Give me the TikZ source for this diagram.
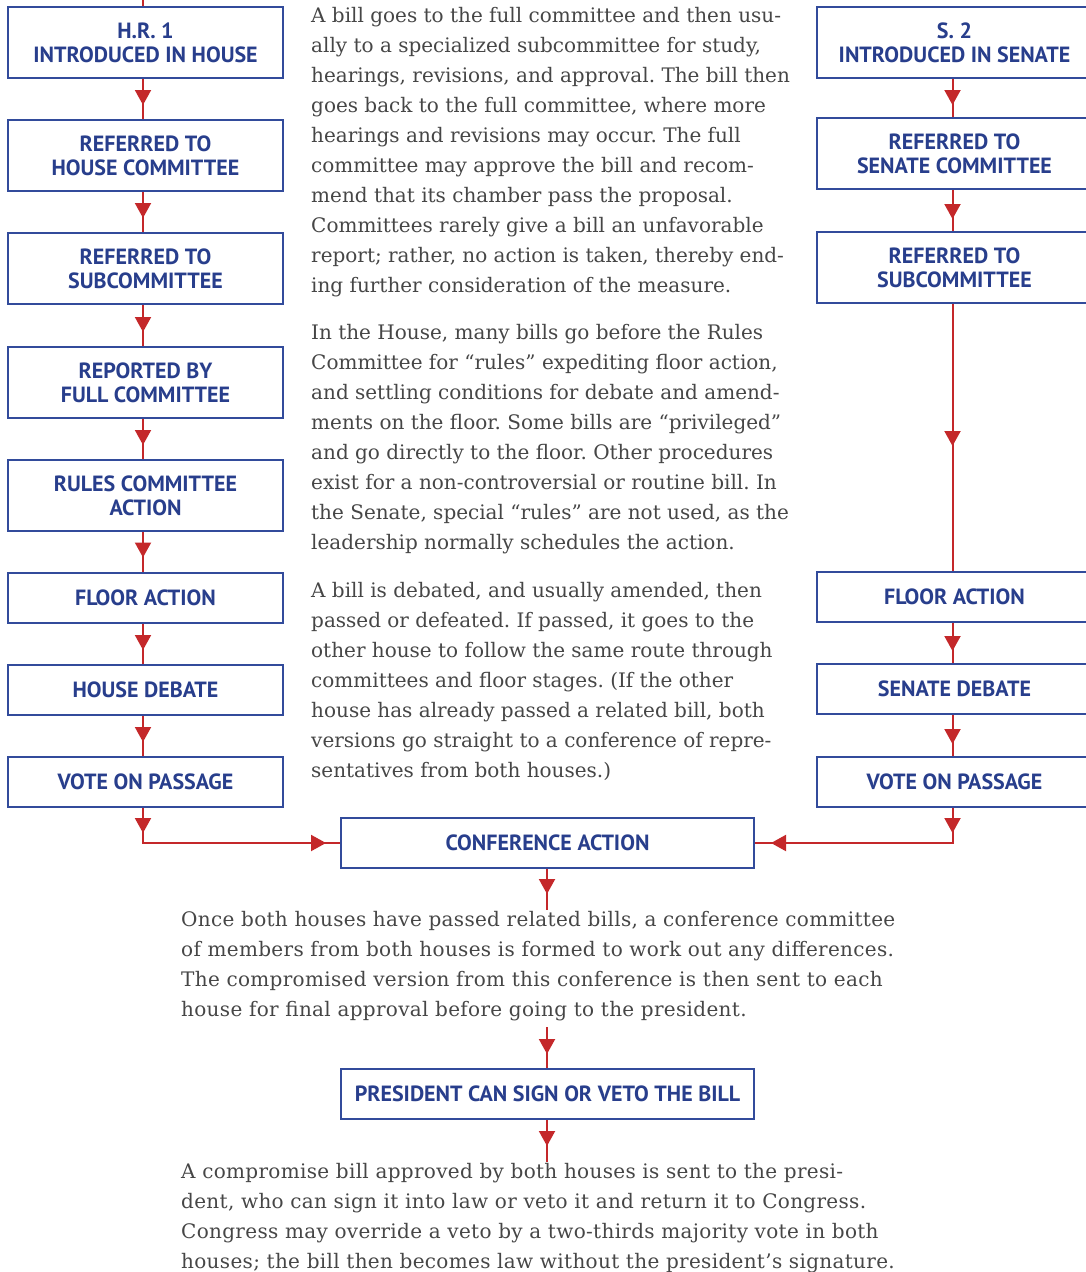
\documentclass[tikz,border=0pt]{standalone}
\usepackage{fontspec}
\usetikzlibrary{arrows.meta,decorations.markings}
\newfontfamily\bodyfont{DejaVu Serif}
\newfontfamily\bodywide{DejaVu Serif}[LetterSpace=1.6]
\newfontfamily\boxfont{PT Sans}
\definecolor{boxblue}{RGB}{40,62,140}
\definecolor{lineblue}{RGB}{50,75,155}
\definecolor{linered}{RGB}{196,40,42}
\definecolor{bodygray}{RGB}{70,70,70}
\tikzset{
  stepbox/.style={draw=lineblue, line width=2pt, fill=white, text=boxblue,
    font=\boxfont\bfseries\fontsize{22}{24}\selectfont, align=center,
    inner sep=0pt, minimum width=275pt},
  tall/.style={minimum height=71pt},
  short/.style={minimum height=50pt},
  wide/.style={minimum width=413pt},
  conn/.style={color=linered, line width=2pt},
  tipfrom/.style={postaction={decorate, decoration={markings,
    mark=at position #1 with {\arrow{Triangle[width=16pt,length=15pt]}}}}},
  bodytext/.style={anchor=base west, inner sep=0pt, text=bodygray,
    font=\frenchspacing\bodyfont\fontsize{20}{24}\selectfont},
  widetext/.style={bodytext, font=\frenchspacing\bodywide\fontsize{20}{24}\selectfont},
}
\begin{document}
\begin{tikzpicture}[x=1pt,y=-1pt]
\useasboundingbox (0,0) rectangle (1086,1272);
\coordinate (lx) at (143,0);
\coordinate (rx) at (952.5,0);
\coordinate (mx) at (547,0);
% left column
\node[stepbox,tall] (a1) at (145.5,42.5) {H.R. 1\\INTRODUCED IN HOUSE};
\node[stepbox,tall] (a2) at (145.5,155.5) {REFERRED TO\\HOUSE COMMITTEE};
\node[stepbox,tall] (a3) at (145.5,268.5) {REFERRED TO\\SUBCOMMITTEE};
\node[stepbox,tall] (a4) at (145.5,382.5) {REPORTED BY\\FULL COMMITTEE};
\node[stepbox,tall] (a5) at (145.5,495.5) {RULES COMMITTEE\\ACTION};
\node[stepbox,short] (a6) at (145.5,597.5) {FLOOR ACTION};
\node[stepbox,short] (a7) at (145.5,690) {HOUSE DEBATE};
\node[stepbox,short] (a8) at (145.5,782) {VOTE ON PASSAGE};
% right column
\node[stepbox,tall] (b1) at (954.5,42.5) {S. 2\\INTRODUCED IN SENATE};
\node[stepbox,tall] (b2) at (954.5,153.5) {REFERRED TO\\SENATE COMMITTEE};
\node[stepbox,tall] (b3) at (954.5,267.5) {REFERRED TO\\SUBCOMMITTEE};
\node[stepbox,short] (b4) at (954.5,597) {FLOOR ACTION};
\node[stepbox,short] (b5) at (954.5,689) {SENATE DEBATE};
\node[stepbox,short] (b6) at (954.5,782) {VOTE ON PASSAGE};
% centre
\node[stepbox,short,wide] (conf) at (547.5,843) {CONFERENCE ACTION};
\node[stepbox,short,wide] (pres) at (547.5,1094) {PRESIDENT CAN SIGN OR VETO THE BILL};
% free ends
\coordinate (top) at (143,0);
\coordinate (cdown) at (547,910);
\coordinate (pup) at (547,1027);
\coordinate (pdown) at (547,1162);
% connectors left
\draw[conn] (top) -- (a1.north -| lx);
\foreach \u/\v in {a1/a2,a2/a3,a3/a4,a4/a5,a5/a6,a6/a7,a7/a8}
  \draw[conn,tipfrom=-14pt] (\u.south -| lx) -- (\v.north -| lx);
% connectors right
\foreach \u/\v in {b1/b2,b2/b3,b4/b5,b5/b6}
  \draw[conn,tipfrom=-12pt] (\u.south -| rx) -- (\v.north -| rx);
\draw[conn,tipfrom=142pt] (b3.south -| rx) -- (b4.north -| rx);
% to conference
\draw[conn,tipfrom=25pt,tipfrom=-14pt] (a8.south -| lx) |- (conf.west);
\draw[conn,tipfrom=25pt,tipfrom=-16pt] (b6.south -| rx) |- (conf.east);
\draw[conn,tipfrom=25pt] (conf.south -| mx) -- (cdown);
\draw[conn,tipfrom=-14pt] (pup) -- (pres.north -| mx);
\draw[conn,tipfrom=26pt] (pres.south -| mx) -- (pdown);
% body text
\foreach \t [count=\i] in {
 {A bill goes to the full committee and then usu-},
 {ally to a specialized subcommittee for study,},
 {hearings, revisions, and approval. The bill then},
 {goes back to the full committee, where more},
 {hearings and revisions may occur. The full},
 {committee may approve the bill and recom-},
 {mend that its chamber pass the proposal.},
 {Committees rarely give a bill an unfavorable},
 {report; rather, no action is taken, thereby end-},
 {ing further consideration of the measure.}}
 \node[bodytext] (pa\i) at (311,{22+30*(\i-1)}) {\t};
\foreach \t [count=\i] in {
 {In the House, many bills go before the Rules},
 {Committee for “rules” expediting floor action,},
 {and settling conditions for debate and amend-},
 {ments on the floor. Some bills are “privileged”},
 {and go directly to the floor. Other procedures},
 {exist for a non-controversial or routine bill. In},
 {the Senate, special “rules” are not used, as the},
 {leadership normally schedules the action.}}
 \node[bodytext] (pb\i) at (311,{339+30*(\i-1)}) {\t};
\foreach \t [count=\i] in {
 {A bill is debated, and usually amended, then},
 {passed or defeated. If passed, it goes to the},
 {other house to follow the same route through},
 {committees and floor stages. (If the other},
 {house has already passed a related bill, both},
 {versions go straight to a conference of repre-},
 {sentatives from both houses.)}}
 \node[bodytext] (pc\i) at (311,{597+30*(\i-1)}) {\t};
\foreach \t [count=\i] in {
 {Once both houses have passed related bills, a conference committee},
 {of members from both houses is formed to work out any differences.},
 {The compromised version from this conference is then sent to each},
 {house for final approval before going to the president.}}
 \node[widetext] (pd\i) at (181,{926+30*(\i-1)}) {\t};
\foreach \t [count=\i] in {
 {A compromise bill approved by both houses is sent to the presi-},
 {dent, who can sign it into law or veto it and return it to Congress.},
 {Congress may override a veto by a two-thirds majority vote in both},
 {houses; the bill then becomes law without the president’s signature.}}
 \node[widetext] (pe\i) at (181,{1178+30*(\i-1)}) {\t};
\end{tikzpicture}
\end{document}
